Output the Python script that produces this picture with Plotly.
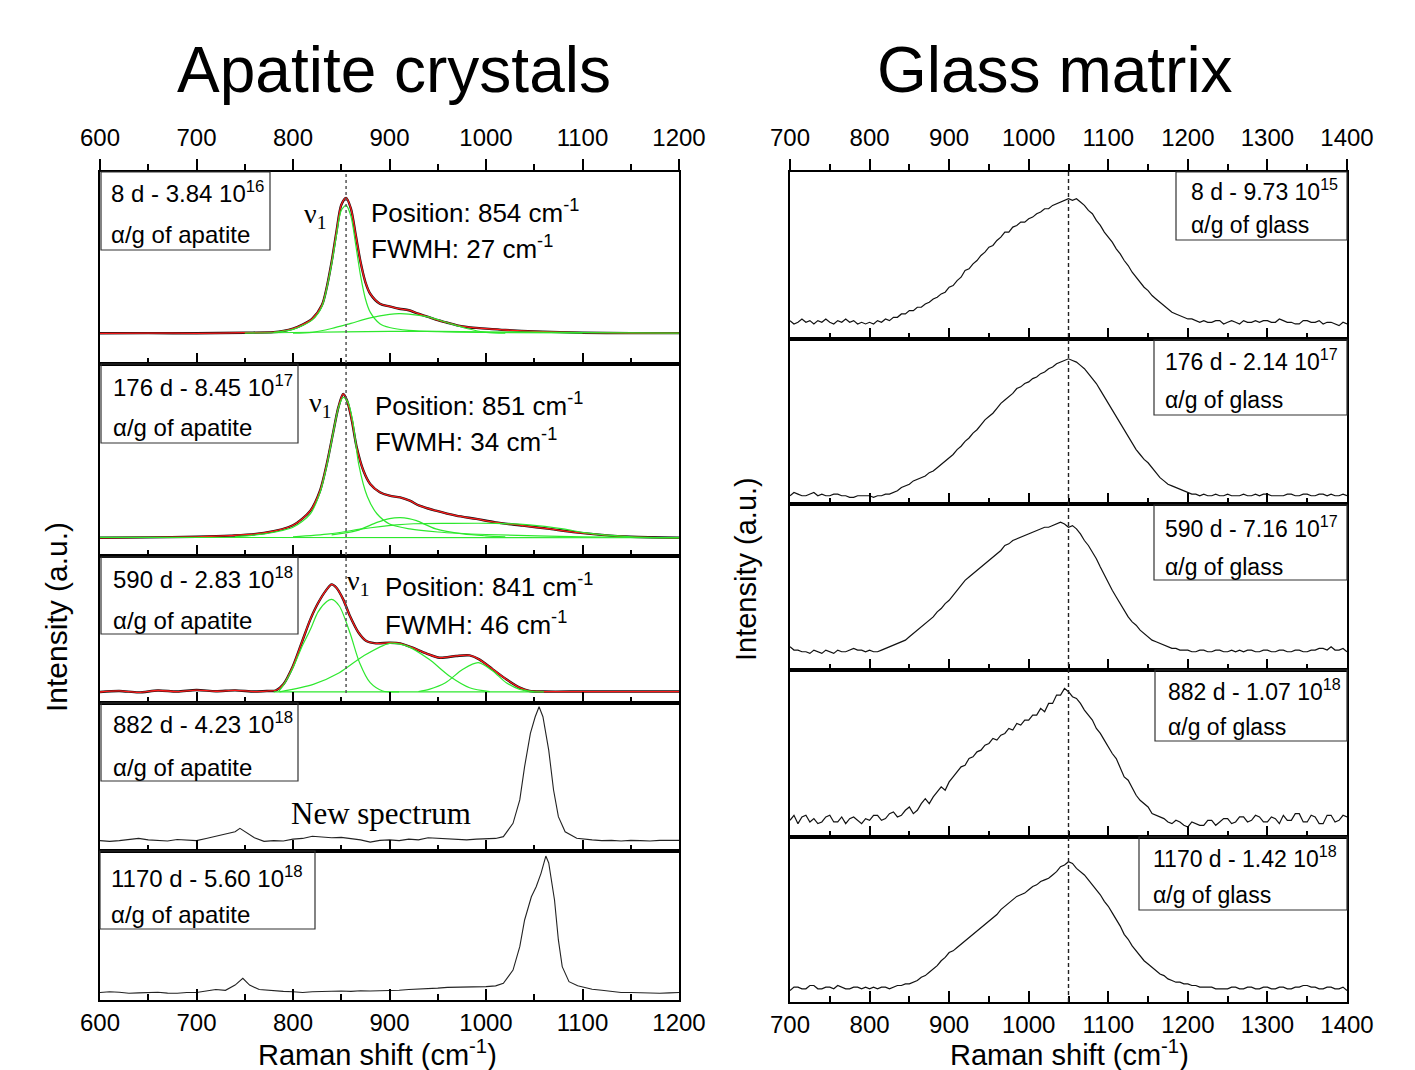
import plotly.graph_objects as go

# The page places the figure 8 px from the top-left corner (default body margin),
# so the figure is sized to fill the 1415x1070 window from there.
PAGE_OFF = 8
W, H = 1415 - PAGE_OFF, 1070 - PAGE_OFF
SANS = "Liberation Sans, Arial, sans-serif"
SERIF = "Liberation Serif, Times New Roman, serif"

# ---------------- DATA (intensity in a.u.) ----------------
# Left column: apatite crystals, Raman shift 600-1200 cm-1
a1_x = [600, 650, 700, 750, 780, 790, 800, 810, 820, 830, 835, 840, 845, 850, 855, 860, 865, 870, 875, 880,
        890, 900, 910, 920, 930, 940, 950, 960, 970, 980, 990, 1000, 1020, 1050, 1100, 1150, 1200]
a1_y = [.160, .161, .160, .163, .166, .172, .184, .205, .236, .307, .400, .531, .688, .828, .865, .809, .672, .531, .427, .366,
        .314, .300, .288, .280, .262, .245, .228, .215, .201, .193, .188, .184, .177, .170, .163, .161, .161]
a1_g1_x = [780, 800, 820, 830, 840, 845, 850, 855, 860, 865, 870, 875, 880, 890, 900, 920, 950, 1000, 1100]
a1_g1_y = [.165, .180, .230, .300, .520, .670, .800, .826, .770, .620, .460, .340, .270, .210, .190, .175, .168, .164, .162]
a1_g2_x = [800, 820, 840, 860, 880, 900, 910, 920, 940, 960, 980, 1000, 1020]
a1_g2_y = [.161, .165, .185, .212, .240, .258, .262, .260, .245, .215, .185, .165, .161]
a1_g3_x = [750, 800, 900, 1000, 1100, 1200]
a1_g3_y = [.161, .164, .170, .168, .163, .161]

a2_x = [600, 650, 700, 735, 770, 800, 818, 828, 835, 842, 847, 852, 856, 861, 866, 873, 880, 890, 900, 911,
        921, 931, 948, 969, 990, 1010, 1038, 1066, 1093, 1120, 1150, 1200]
a2_y = [.095, .097, .100, .106, .120, .160, .236, .340, .479, .653, .774, .844, .809, .705, .566, .444, .375, .332, .314, .305,
        .288, .262, .236, .210, .193, .175, .158, .141, .123, .110, .100, .095]
a2_g1_x = [740, 770, 800, 818, 828, 835, 842, 847, 852, 857, 862, 868, 877, 887, 900, 921, 950, 1000, 1100, 1200]
a2_g1_y = [.100, .115, .150, .220, .330, .470, .650, .770, .826, .800, .700, .480, .310, .220, .167, .141, .125, .112, .100, .095]
a2_g2_x = [840, 866, 887, 900, 911, 920, 928, 948, 976, 1000, 1020]
a2_g2_y = [.110, .132, .175, .195, .200, .195, .184, .141, .115, .105, .100]
a2_g3_x = [800, 838, 870, 907, 925, 960, 1010, 1045, 1080, 1104, 1150, 1200]
a2_g3_y = [.100, .115, .140, .162, .168, .170, .170, .162, .141, .120, .100, .095]
a2_g4_x = [600, 1200]
a2_g4_y = [.097, .095]

a3_x = [600, 620, 640, 660, 680, 700, 720, 740, 760, 775, 782, 790, 800, 809, 818, 826, 835, 840, 845, 852,
        859, 868, 876, 886, 900, 911, 924, 938, 952, 969, 983, 993, 1007, 1021, 1035, 1045, 1060, 1100, 1150, 1200]
a3_y = [.075, .082, .072, .085, .078, .088, .080, .086, .078, .082, .085, .127, .252, .410, .569, .680, .773, .807, .784, .705,
        .592, .478, .422, .406, .410, .406, .376, .338, .308, .320, .324, .297, .229, .161, .104, .082, .078, .078, .078, .078]
a3_g1_x = [785, 790, 800, 809, 818, 826, 835, 840, 848, 859, 869, 880, 893, 910]
a3_g1_y = [.078, .120, .240, .380, .500, .620, .690, .705, .660, .478, .274, .138, .082, .076]
a3_g2_x = [786, 821, 848, 873, 900, 917, 941, 962, 983, 1004]
a3_g2_y = [.076, .127, .206, .320, .406, .390, .297, .184, .104, .078]
a3_g3_x = [930, 941, 958, 976, 992, 1007, 1021, 1035, 1050]
a3_g3_y = [.078, .093, .138, .229, .274, .218, .138, .093, .078]
a3_g4_x = [780, 1060]
a3_g4_y = [.076, .076]

a4_x = [600, 610, 620, 630, 640, 650, 660, 670, 680, 690, 700, 710, 720, 730, 740, 745, 750, 760, 770, 780,
        790, 800, 810, 820, 830, 840, 850, 860, 870, 880, 890, 900, 910, 920, 930, 940, 950, 960, 970, 980,
        990, 1000, 1010, 1018, 1028, 1035, 1040, 1046, 1051, 1055, 1059, 1065, 1070, 1075, 1082, 1094, 1100, 1110, 1120, 1130,
        1140, 1150, 1160, 1170, 1180, 1190, 1200]
a4_y = [.070, .065, .070, .075, .085, .075, .070, .068, .078, .072, .070, .085, .100, .110, .130, .153, .130, .090, .065, .070,
        .068, .080, .085, .100, .095, .090, .092, .085, .075, .060, .072, .075, .070, .080, .075, .090, .085, .085, .080, .075,
        .080, .080, .085, .097, .187, .345, .570, .795, .907, .975, .907, .682, .412, .232, .130, .086, .080, .075, .070, .072,
        .068, .072, .070, .068, .072, .070, .072]

a5_x = [600, 610, 620, 630, 640, 650, 660, 670, 680, 690, 700, 710, 720, 730, 740, 748, 755, 765, 780, 790,
        800, 810, 820, 830, 840, 850, 860, 870, 880, 890, 900, 910, 920, 930, 940, 950, 960, 970, 980, 990,
        1000, 1010, 1018, 1028, 1035, 1040, 1047, 1052, 1057, 1062, 1065, 1071, 1075, 1079, 1086, 1095, 1103, 1110, 1120, 1130,
        1140, 1150, 1160, 1170, 1180, 1190, 1200]
a5_y = [.050, .055, .052, .045, .048, .050, .052, .046, .045, .050, .050, .060, .070, .065, .100, .146, .100, .070, .060, .058,
        .055, .050, .055, .058, .060, .060, .058, .062, .060, .062, .060, .065, .070, .072, .075, .080, .085, .085, .088, .090,
        .090, .095, .112, .201, .358, .537, .693, .760, .850, .966, .920, .671, .403, .224, .123, .095, .080, .072, .065, .055,
        .050, .050, .048, .050, .045, .048, .050]

# Right column: glass matrix, Raman shift 700-1400 cm-1, step 5
g_x = list(range(700, 1401, 5))
g1_y = [.11, .09, .10, .12, .10, .11, .09, .11, .10, .12, .10, .09, .11, .10, .12, .10, .11, .09, .10, .09,
        .10, .09, .11, .10, .12, .11, .13, .13, .15, .15, .17, .17, .19, .19, .21, .22, .24, .25, .27, .28,
        .31, .32, .35, .37, .41, .42, .45, .47, .50, .52, .55, .56, .59, .61, .64, .64, .67, .68, .70, .70,
        .72, .73, .75, .76, .78, .78, .80, .81, .82, .83, .84, .83, .84, .82, .80, .77, .75, .71, .68, .64,
        .61, .58, .54, .51, .47, .44, .40, .37, .34, .31, .29, .26, .24, .22, .20, .18, .16, .15, .14, .13,
        .12, .12, .11, .10, .11, .10, .10, .11, .11, .09, .10, .11, .10, .09, .11, .10, .10, .11, .10, .11,
        .11, .10, .10, .12, .11, .10, .10, .09, .09, .11, .11, .10, .10, .11, .09, .10, .10, .09, .08, .10,
        .09]
g2_y = [.05, .07, .06, .05, .05, .06, .07, .05, .06, .05, .05, .06, .06, .05, .05, .04, .04, .05, .05, .05,
        .05, .04, .05, .05, .06, .06, .07, .08, .10, .11, .12, .14, .15, .16, .17, .19, .20, .22, .24, .26,
        .28, .30, .33, .35, .38, .40, .43, .45, .48, .51, .53, .55, .58, .61, .63, .65, .67, .70, .71, .73,
        .74, .76, .77, .79, .80, .82, .83, .85, .86, .87, .88, .87, .86, .84, .82, .79, .76, .73, .69, .65,
        .61, .57, .53, .49, .45, .41, .37, .33, .30, .27, .25, .22, .19, .16, .14, .12, .11, .10, .09, .08,
        .07, .06, .06, .05, .06, .05, .05, .06, .05, .05, .06, .05, .05, .05, .06, .05, .05, .06, .05, .06,
        .06, .05, .05, .05, .05, .06, .06, .05, .05, .06, .06, .05, .05, .06, .06, .05, .06, .05, .05, .06,
        .05]
g3_y = [.14, .12, .12, .11, .11, .10, .12, .11, .10, .12, .11, .10, .12, .11, .11, .12, .13, .12, .12, .11,
        .12, .11, .11, .12, .13, .14, .15, .16, .17, .18, .20, .22, .24, .26, .28, .30, .32, .35, .37, .40,
        .42, .45, .48, .51, .54, .56, .58, .60, .62, .64, .66, .68, .70, .72, .75, .76, .78, .79, .80, .81,
        .82, .83, .84, .85, .86, .86, .87, .88, .89, .88, .86, .87, .85, .82, .78, .75, .71, .67, .62, .57,
        .52, .48, .44, .40, .36, .32, .29, .27, .24, .22, .20, .18, .17, .16, .15, .14, .13, .13, .12, .12,
        .12, .11, .11, .12, .12, .11, .11, .12, .12, .11, .11, .12, .11, .12, .11, .12, .12, .11, .11, .12,
        .12, .11, .11, .12, .12, .11, .11, .12, .12, .11, .11, .12, .12, .13, .13, .12, .14, .12, .12, .13,
        .11]
g4_y = [.10, .13, .08, .12, .13, .09, .11, .08, .09, .12, .13, .09, .09, .12, .08, .11, .12, .10, .08, .11,
        .10, .13, .13, .10, .11, .14, .15, .12, .13, .16, .18, .14, .16, .20, .23, .20, .24, .27, .30, .28,
        .33, .36, .39, .42, .43, .47, .48, .51, .52, .55, .56, .59, .58, .61, .62, .65, .64, .68, .67, .70,
        .70, .73, .73, .77, .75, .80, .80, .85, .85, .89, .87, .84, .83, .80, .76, .73, .70, .65, .62, .58,
        .54, .50, .47, .42, .36, .34, .29, .25, .22, .20, .18, .14, .13, .12, .11, .09, .08, .10, .09, .07,
        .06, .09, .08, .07, .07, .10, .10, .07, .09, .11, .11, .08, .09, .12, .12, .09, .10, .13, .12, .09,
        .09, .12, .11, .08, .13, .10, .10, .14, .14, .09, .09, .13, .12, .08, .08, .13, .13, .09, .10, .13,
        .12]
g5_y = [.07, .09, .09, .08, .08, .10, .10, .08, .08, .09, .09, .08, .10, .09, .08, .08, .09, .09, .08, .09,
        .08, .09, .08, .09, .09, .08, .09, .10, .10, .11, .11, .12, .13, .15, .16, .18, .20, .22, .25, .27,
        .30, .31, .33, .35, .37, .39, .41, .43, .45, .47, .49, .51, .53, .56, .58, .60, .62, .64, .65, .66,
        .68, .70, .71, .73, .74, .75, .77, .79, .82, .83, .85, .84, .81, .79, .77, .74, .71, .68, .65, .61,
        .58, .54, .50, .46, .41, .38, .34, .31, .28, .25, .23, .21, .19, .17, .16, .14, .13, .12, .12, .11,
        .11, .10, .10, .09, .09, .09, .09, .08, .08, .08, .08, .09, .09, .08, .08, .09, .09, .08, .08, .09,
        .09, .08, .08, .09, .09, .08, .08, .09, .09, .10, .10, .09, .09, .08, .08, .09, .09, .08, .08, .09,
        .07]

left_labels = [("8 d - 3.84 10<sup>16</sup>", "α/g of apatite"),
               ("176 d - 8.45 10<sup>17</sup>", "α/g of apatite"),
               ("590 d - 2.83 10<sup>18</sup>", "α/g of apatite"),
               ("882 d - 4.23 10<sup>18</sup>", "α/g of apatite"),
               ("1170 d - 5.60 10<sup>18</sup>", "α/g of apatite")]
right_labels = [("8 d - 9.73 10<sup>15</sup>", "α/g of glass"),
                ("176 d - 2.14 10<sup>17</sup>", "α/g of glass"),
                ("590 d - 7.16 10<sup>17</sup>", "α/g of glass"),
                ("882 d - 1.07 10<sup>18</sup>", "α/g of glass"),
                ("1170 d - 1.42 10<sup>18</sup>", "α/g of glass")]
fit_positions = ["854", "851", "841"]
fit_fwhm = ["27", "34", "46"]
left_range = [600, 1200]
right_range = [700, 1400]
left_ticks = [600, 700, 800, 900, 1000, 1100, 1200]
right_ticks = [700, 800, 900, 1000, 1100, 1200, 1300, 1400]
nu1_left = 855
nu_glass = 1050

# ---------------- LAYOUT GEOMETRY (window pixels) ----------------
LX0, LX1 = 100, 679
RX0, RX1 = 790, 1347
L_rows = [172, 364, 556, 703, 851, 1000]
R_rows = [172, 339, 504, 670, 837, 1002]

def fx(px):
    return (px - PAGE_OFF) / W

def fy(py):
    return 1 - (py - PAGE_OFF) / H

GREEN = "#2ee82e"
RED = "#ff1a1a"

fig = go.Figure()

def add_line(xs, ys, ax, color, width, shape="linear"):
    fig.add_trace(go.Scatter(x=xs, y=ys, mode="lines", xaxis="x" + ax, yaxis="y" + ax,
                             line=dict(color=color, width=width, shape=shape, smoothing=0.8 if shape == "spline" else None),
                             showlegend=False, hoverinfo="skip"))

left_sets = [
    (a1_x, a1_y, [(a1_g1_x, a1_g1_y), (a1_g2_x, a1_g2_y), (a1_g3_x, a1_g3_y)]),
    (a2_x, a2_y, [(a2_g1_x, a2_g1_y), (a2_g2_x, a2_g2_y), (a2_g3_x, a2_g3_y), (a2_g4_x, a2_g4_y)]),
    (a3_x, a3_y, [(a3_g1_x, a3_g1_y), (a3_g2_x, a3_g2_y), (a3_g3_x, a3_g3_y), (a3_g4_x, a3_g4_y)]),
]
for i, (xs, ys, comps) in enumerate(left_sets):
    ax = str(i + 1)
    add_line(xs, ys, ax, "#111111", 2.4, "spline")
    add_line(xs, ys, ax, RED, 1.3, "spline")
    for cx, cy in comps:
        add_line(cx, cy, ax, GREEN, 1.2, "spline")
add_line(a4_x, a4_y, "4", "#222222", 1.1)
add_line(a5_x, a5_y, "5", "#222222", 1.1)

for i, gy in enumerate([g1_y, g2_y, g3_y, g4_y, g5_y]):
    add_line(g_x, gy, str(6 + i), "#111111", 1.2)

fig.add_trace(go.Scatter(x=[None], y=[None], xaxis="x11", yaxis="y1", showlegend=False))
fig.add_trace(go.Scatter(x=[None], y=[None], xaxis="x12", yaxis="y6", showlegend=False))

layout = dict(width=W, height=H, margin=dict(l=0, r=0, t=0, b=0, autoexpand=False),
              paper_bgcolor="white", plot_bgcolor="white", showlegend=False,
              font=dict(family=SANS, color="black"))

def xaxis_def(rng, dom, anchor, ticks_vals, labels):
    return dict(range=rng, domain=dom, anchor=anchor, showgrid=False, zeroline=False, automargin=False,
                showline=True, linecolor="black", linewidth=1.8, mirror=True,
                ticks="inside", ticklen=11, tickwidth=2, tickcolor="black",
                tickvals=ticks_vals, showticklabels=labels,
                tickfont=dict(family=SANS, size=24, color="black"),
                ticklabelstandoff=0,
                minor=dict(ticks="inside", dtick=50, ticklen=6, tickwidth=2, tickcolor="black"))

def yaxis_def(dom, anchor):
    return dict(range=[0, 1], domain=dom, anchor=anchor, showgrid=False, zeroline=False, automargin=False,
                showline=True, linecolor="black", linewidth=1.8, mirror=True,
                ticks="", showticklabels=False)

for i in range(5):
    n = i + 1
    key = "" if n == 1 else str(n)
    layout["xaxis" + key] = xaxis_def(left_range, [fx(LX0), fx(LX1)], "y" + str(n), left_ticks, n == 5)
    layout["yaxis" + key] = yaxis_def([fy(L_rows[i + 1]), fy(L_rows[i])], "x" + str(n))
for i in range(5):
    n = i + 6
    layout["xaxis" + str(n)] = xaxis_def(right_range, [fx(RX0), fx(RX1)], "y" + str(n), right_ticks, n == 10)
    layout["yaxis" + str(n)] = yaxis_def([fy(R_rows[i + 1]), fy(R_rows[i])], "x" + str(n))

def top_axis(rng, dom, over, anchor, ticks_vals):
    return dict(range=rng, domain=dom, overlaying=over, anchor=anchor, side="top", automargin=False,
                showgrid=False, zeroline=False, showline=True, linecolor="black", linewidth=1.8,
                ticks="outside", ticklen=11, tickwidth=2, tickcolor="black",
                tickvals=ticks_vals, tickfont=dict(family=SANS, size=24, color="black"),
                ticklabelstandoff=4,
                minor=dict(ticks="outside", dtick=50, ticklen=6, tickwidth=2, tickcolor="black"))

layout["xaxis11"] = top_axis(left_range, [fx(LX0), fx(LX1)], "x", "y", left_ticks)
layout["xaxis12"] = top_axis(right_range, [fx(RX0), fx(RX1)], "x6", "y6", right_ticks)

annotations = []
shapes = []

def ann(text, px, py, size, family=SANS, xanchor="left", angle=0):
    annotations.append(dict(text=text, x=fx(px), y=fy(py), xref="paper", yref="paper",
                            xanchor=xanchor, yanchor="middle", showarrow=False, textangle=angle,
                            font=dict(family=family, size=size, color="black")))

def box(x0, y0, x1, y1):
    shapes.append(dict(type="rect", xref="paper", yref="paper", x0=fx(x0), x1=fx(x1), y0=fy(y1), y1=fy(y0),
                       line=dict(color="#333333", width=1.2), fillcolor="rgba(0,0,0,0)"))

ann("Apatite crystals", 394, 70, 64, xanchor="center")
ann("Glass matrix", 1055, 70, 64, xanchor="center")
ann("Raman shift (cm<sup>-1</sup>)", 377, 1053, 29, xanchor="center")
ann("Raman shift (cm<sup>-1</sup>)", 1069, 1053, 29, xanchor="center")
ann("Intensity (a.u.)", 56, 617, 30, xanchor="center", angle=-90)
ann("Intensity (a.u.)", 746, 569, 29, xanchor="center", angle=-90)

left_boxes = [(101, 172, 270, 250, 109, 192, 234),
              (101, 364, 298, 443, 111, 386, 427),
              (101, 557, 298, 634, 111, 578, 620),
              (101, 703, 298, 781, 111, 723, 767),
              (100, 851, 315, 929, 109, 877, 914)]
for (x0, y0, x1, y1, tx, l1, l2), (t1, t2) in zip(left_boxes, left_labels):
    box(x0, y0, x1, y1)
    ann(t1, tx, l1, 24)
    ann(t2, tx, l2, 24)

right_boxes = [(1176, 172, 1347, 240, 1189, 190, 225),
               (1154, 340, 1347, 415, 1163, 360, 400),
               (1154, 505, 1347, 580, 1163, 527, 567),
               (1155, 670, 1347, 741, 1166, 690, 727),
               (1139, 837, 1347, 910, 1151, 857, 895)]
for (x0, y0, x1, y1, tx, l1, l2), (t1, t2) in zip(right_boxes, right_labels):
    box(x0, y0, x1, y1)
    ann(t1, tx, l1, 23)
    ann(t2, tx, l2, 23)

nu_pos = [(302, 215), (307, 404), (345, 582)]
fit_txt = [(369, 211, 247), (373, 404, 441), (383, 585, 623)]
for (nx, ny), (tx, y1, y2), p, f in zip(nu_pos, fit_txt, fit_positions, fit_fwhm):
    ann("ν<sub>1</sub>", nx, ny, 28, family=SERIF)
    ann("Position: " + p + " cm<sup>-1</sup>", tx, y1, 26)
    ann("FWMH: " + f + " cm<sup>-1</sup>", tx, y2, 26)
ann("New spectrum", 381, 813, 31, family=SERIF, xanchor="center")

shapes.append(dict(type="line", xref="x", yref="paper", x0=nu1_left, x1=nu1_left, y0=fy(693), y1=fy(174),
                   line=dict(color="#555555", width=1.5, dash="dot")))
shapes.append(dict(type="line", xref="x6", yref="paper", x0=nu_glass, x1=nu_glass, y0=fy(1002), y1=fy(172),
                   line=dict(color="#222222", width=1.4, dash="4px,3px")))

layout["annotations"] = annotations
layout["shapes"] = shapes
fig.update_layout(**layout)
fig.write_html("out.html")
